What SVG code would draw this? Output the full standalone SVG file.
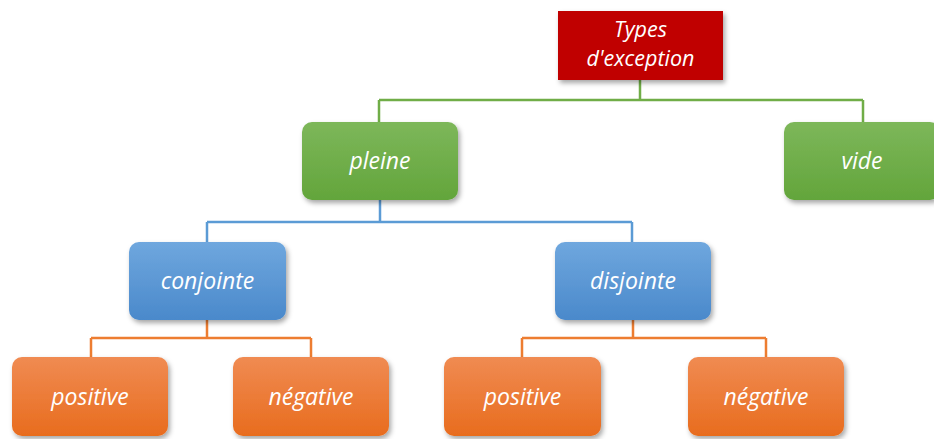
<svg xmlns="http://www.w3.org/2000/svg" width="934" height="439" viewBox="0 0 934 439">
<defs>
<linearGradient id="gG" x1="0" y1="0" x2="0" y2="1"><stop offset="0" stop-color="#7db75a"/><stop offset="1" stop-color="#63a53b"/></linearGradient>
<linearGradient id="gB" x1="0" y1="0" x2="0" y2="1"><stop offset="0" stop-color="#6fa7de"/><stop offset="1" stop-color="#4a89cb"/></linearGradient>
<linearGradient id="gO" x1="0" y1="0" x2="0" y2="1"><stop offset="0" stop-color="#f08b52"/><stop offset="1" stop-color="#e86c1e"/></linearGradient>
<filter id="sh" x="-20%" y="-20%" width="140%" height="150%"><feDropShadow dx="2" dy="3" stdDeviation="2.5" flood-color="#000" flood-opacity="0.35"/></filter>
</defs>
<style>
.t{font-family:"Open Sans","Noto Sans","Liberation Sans",sans-serif;font-style:italic;font-size:23px;fill:#fff;text-anchor:middle}
.r{font-size:21.5px}
.g{fill:url(#gG)}.b{fill:url(#gB)}.o{fill:url(#gO)}
.cg{stroke:#70ad47;stroke-width:2.5;fill:none}
.cb{stroke:#5b9bd5;stroke-width:2.5;fill:none}
.co{stroke:#ed7d31;stroke-width:2.5;fill:none}
</style>
<rect width="934" height="439" fill="#fff"/>
<g id="connectors">
<path class="cg" d="M640 80V100M379 100H863M379 100V122M863 100V122"/>
<path class="cb" d="M380 200V222M207 222H632M207 222V242M632 222V242"/>
<path class="co" d="M207 320V338M91 338H311M91 338V357M311 338V357"/>
<path class="co" d="M633 320V338M522 338H766M522 338V357M766 338V357"/>
</g>
<g id="root"><rect x="558" y="11" width="165" height="69" fill="#c00000" filter="url(#sh)"/><text class="t r" x="640.500" y="37">Types</text><text class="t r" x="640.500" y="66">d'exception</text></g>
<g id="pleine"><rect class="g" x="302" y="122" width="156" height="78" rx="10" filter="url(#sh)"/><text class="t" x="380" y="169">pleine</text></g>
<g id="vide"><rect class="g" x="784" y="122" width="156" height="78" rx="10" filter="url(#sh)"/><text class="t" x="862" y="169">vide</text></g>
<g id="conjointe"><rect class="b" x="129" y="242" width="157" height="78" rx="10" filter="url(#sh)"/><text class="t" x="207.500" y="289">conjointe</text></g>
<g id="disjointe"><rect class="b" x="555" y="242" width="156" height="78" rx="10" filter="url(#sh)"/><text class="t" x="633" y="289">disjointe</text></g>
<g id="positive1"><rect class="o" x="12" y="357" width="156" height="79" rx="10" filter="url(#sh)"/><text class="t" x="90" y="405">positive</text></g>
<g id="negative1"><rect class="o" x="233" y="357" width="156" height="79" rx="10" filter="url(#sh)"/><text class="t" x="311" y="405">négative</text></g>
<g id="positive2"><rect class="o" x="444" y="357" width="157" height="79" rx="10" filter="url(#sh)"/><text class="t" x="522.500" y="405">positive</text></g>
<g id="negative2"><rect class="o" x="688" y="357" width="156" height="79" rx="10" filter="url(#sh)"/><text class="t" x="766" y="405">négative</text></g>
</svg>
